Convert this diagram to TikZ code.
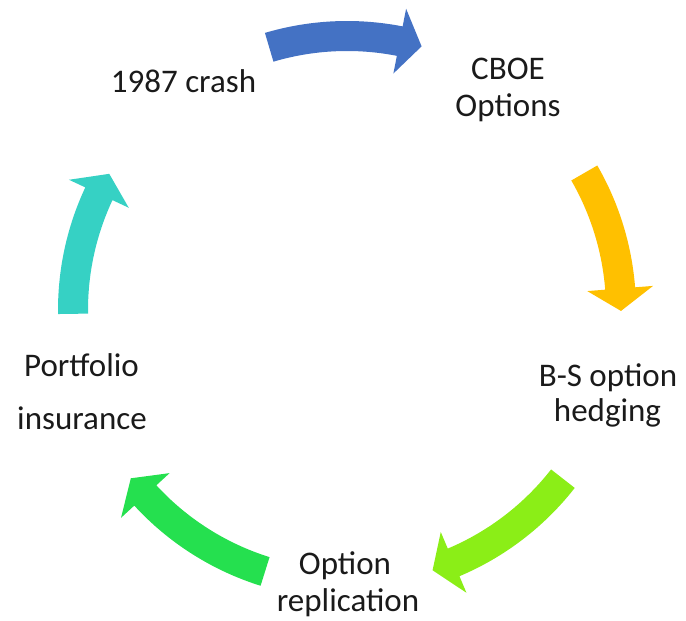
\documentclass[tikz,border=0pt]{standalone}
\usepackage{fontspec}
\setmainfont{Carlito}

\definecolor{arrBlue}{HTML}{4472C4}
\definecolor{arrOrange}{HTML}{FFC000}
\definecolor{arrLime}{HTML}{8BEE17}
\definecolor{arrGreen}{HTML}{25E04F}
\definecolor{arrTeal}{HTML}{36D1C4}
\definecolor{txt}{HTML}{1A1A1A}

% Curved block arrow on the cycle circle (centre at origin of the scope)
% #1 colour, #2 start angle, #3 tip angle (clockwise travel)
\newcommand\cyclearc[3]{%
  \fill[#1] (#2:289) arc[start angle=#2, end angle=#3+4.7, radius=289]
    -- (#3+4.7:307) -- (#3:274) -- (#3+4.7:241) -- (#3+4.7:259)
    arc[start angle=#3+4.7, end angle=#2, radius=259] -- cycle;}

\begin{document}
\begin{tikzpicture}[x=1pt,y=1pt,
  lbl/.style={font=\fontsize{33}{40}\selectfont, anchor=base, inner sep=0pt, text=txt}]
\useasboundingbox (0,0) rectangle (686,621);

\begin{scope}[shift={(347,311)}]
  \cyclearc{arrBlue}{106.5}{74.2}
  \cyclearc{arrOrange}{30.0}{-0.2}
  \cyclearc{arrLime}{-38}{-71.8}
  \cyclearc{arrGreen}{-107.4}{-142.1}
  \cyclearc{arrTeal}{180.8}{150.2}
\end{scope}

\node[lbl] (crash) at (183.5,528) {1987 crash};
\node[lbl] (cboe1) at (508,541) {CBOE};
\node[lbl] (cboe2) at (508,504) {Options};
\node[lbl] (bs1) at (608,234) {B-S option};
\node[lbl] (bs2) at (607.5,199) {hedging};
\node[lbl] (rep1) at (345,46) {Option};
\node[lbl] (rep2) at (348,9) {replication};
\node[lbl] (pf1) at (81.5,244) {Portfolio};
\node[lbl] (pf2) at (82,191) {insurance};
\end{tikzpicture}
\end{document}
